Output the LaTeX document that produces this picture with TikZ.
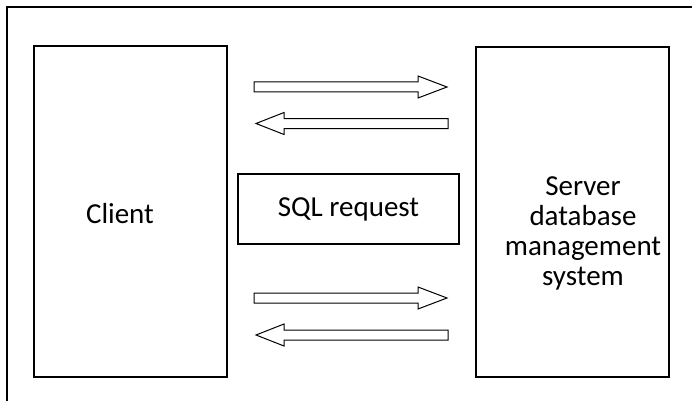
\documentclass[tikz,border=0pt]{standalone}
\usepackage{fontspec}
\setmainfont{Carlito}
\begin{document}
\begin{tikzpicture}[x=1pt, y=-1pt, line width=1.2pt, font=\fontsize{29}{30}\selectfont]
\useasboundingbox (0,0) rectangle (692,401);
%%%%%%%%%%%%%%%%%%%%%%%%%%%%%%% client / server frame
\draw[line width=1.5pt] (7,401) -- (7,7) -- (692,7);
\node[draw, minimum width=193pt, minimum height=331pt](client) at (130.5,211.5){};
\node(clienttext) at (120,214){Client};
\node[draw, minimum width=193pt, minimum height=330pt](server) at (572.5,212){};
\node[align=center](servertext) at (583,233){Server\\database\\management\\system};
\node[draw, minimum width=221pt, minimum height=70pt](sql) at (348.5,209){SQL request};
%%%%%%%%%%%%%%%%%%%%%%%%%%%%%%% block arrows
\foreach \y in {87,298}{
\draw[line width=1pt] (254,\y-5) -- (418,\y-5) -- (418,\y-11) -- (447,\y) -- (418,\y+11) -- (418,\y+5) -- (254,\y+5) -- cycle;
}
\foreach \y in {123.5,335}{
\draw[line width=1pt] (448,\y-5) -- (284,\y-5) -- (284,\y-11) -- (256,\y) -- (284,\y+11) -- (284,\y+5) -- (448,\y+5) -- cycle;
}
\end{tikzpicture}
\end{document}
